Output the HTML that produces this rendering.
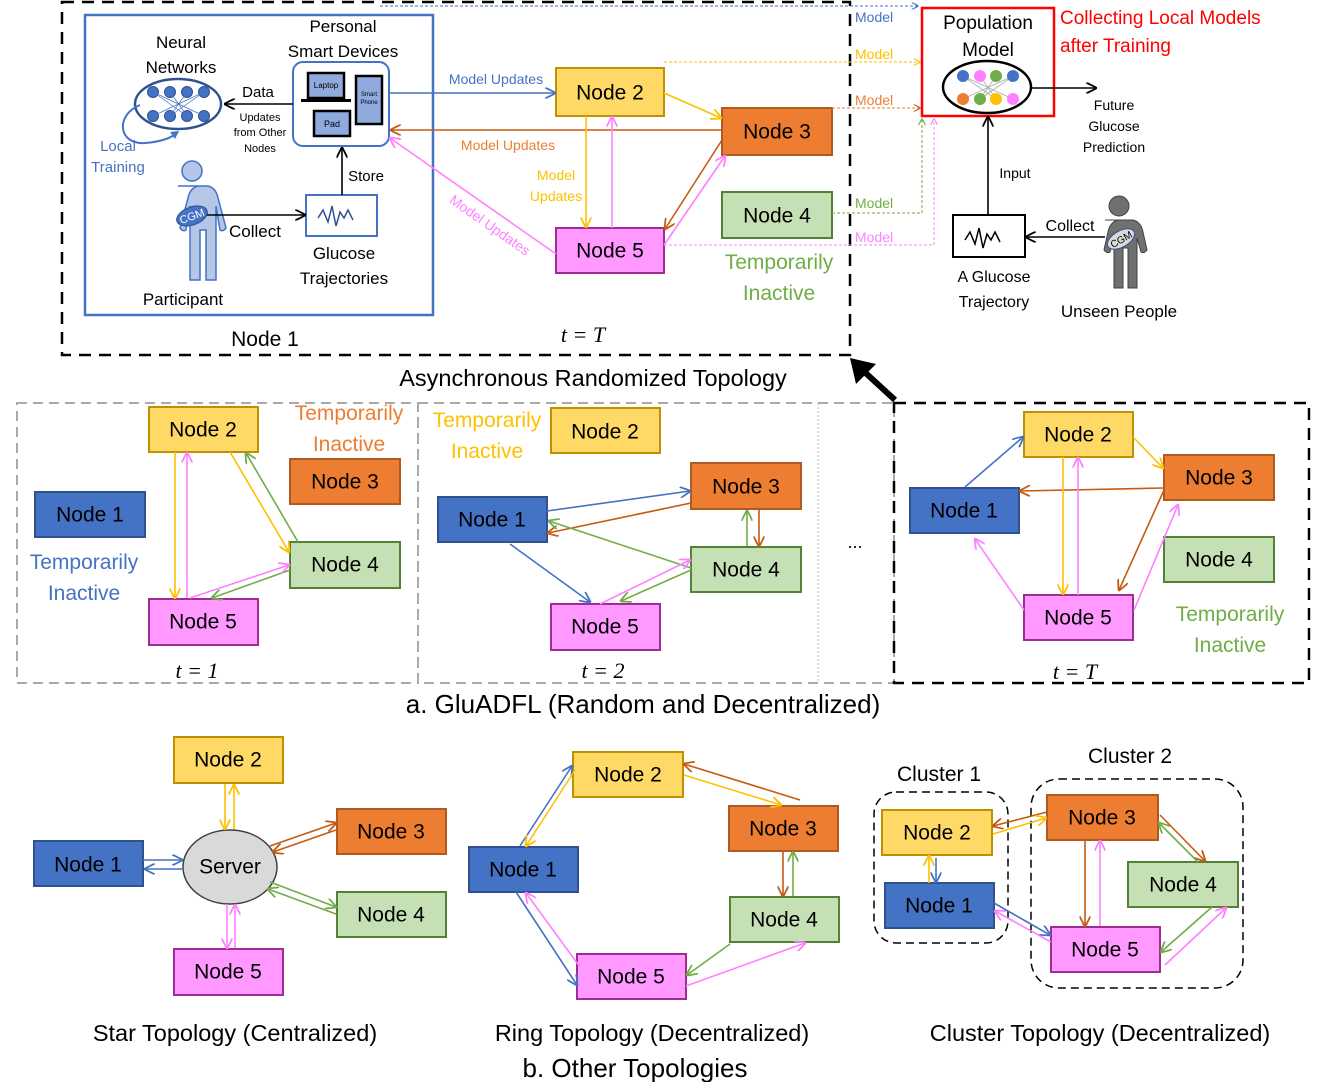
<!DOCTYPE html>
<html><head><meta charset="utf-8"><style>
html,body{margin:0;padding:0;background:#fff}
svg{display:block;font-family:"Liberation Sans",sans-serif}
.n{font-size:21px;text-anchor:middle;dominant-baseline:central;fill:#000}
.y{fill:#FFD966;stroke:#BF9000;stroke-width:2}
.o{fill:#ED7D31;stroke:#AE5A21;stroke-width:2}
.g{fill:#C5E0B4;stroke:#548235;stroke-width:2}
.p{fill:#FF99FF;stroke:#A02B93;stroke-width:2}
.b{fill:#4472C4;stroke:#2F528F;stroke-width:2}
.eb{stroke:#4472C4;stroke-width:1.6;fill:none;marker-end:url(#mb)}
.ey{stroke:#FFC000;stroke-width:1.6;fill:none;marker-end:url(#my)}
.eo{stroke:#C55A11;stroke-width:1.6;fill:none;marker-end:url(#mo)}
.eg{stroke:#70AD47;stroke-width:1.6;fill:none;marker-end:url(#mg)}
.ep{stroke:#FF80FF;stroke-width:1.6;fill:none;marker-end:url(#mp)}
.ek{stroke:#000;stroke-width:1.6;fill:none;marker-end:url(#mk)}
.t{font-size:17px;text-anchor:middle}
.s{font-size:13px;text-anchor:middle}
.m{font-family:"Liberation Serif",serif;font-style:italic;font-size:22px;text-anchor:middle}
</style></head><body>
<svg width="1329" height="1082" viewBox="0 0 1329 1082" xmlns="http://www.w3.org/2000/svg">
<defs>
<marker id="mb" viewBox="0 0 10 10" refX="9" refY="5" markerWidth="7" markerHeight="7" orient="auto"><path d="M0,0L10,5L0,10" fill="none" stroke="#4472C4" stroke-width="1.6"/></marker>
<marker id="my" viewBox="0 0 10 10" refX="9" refY="5" markerWidth="7" markerHeight="7" orient="auto"><path d="M0,0L10,5L0,10" fill="none" stroke="#FFC000" stroke-width="1.6"/></marker>
<marker id="mo" viewBox="0 0 10 10" refX="9" refY="5" markerWidth="7" markerHeight="7" orient="auto"><path d="M0,0L10,5L0,10" fill="none" stroke="#C55A11" stroke-width="1.6"/></marker>
<marker id="mg" viewBox="0 0 10 10" refX="9" refY="5" markerWidth="7" markerHeight="7" orient="auto"><path d="M0,0L10,5L0,10" fill="none" stroke="#70AD47" stroke-width="1.6"/></marker>
<marker id="mp" viewBox="0 0 10 10" refX="9" refY="5" markerWidth="7" markerHeight="7" orient="auto"><path d="M0,0L10,5L0,10" fill="none" stroke="#FF80FF" stroke-width="1.6"/></marker>
<marker id="mk" viewBox="0 0 10 10" refX="9" refY="5" markerWidth="7" markerHeight="7" orient="auto"><path d="M0,0L10,5L0,10" fill="none" stroke="#000" stroke-width="1.6"/></marker>
</defs>

<!-- ===== TOP ===== -->
<rect x="62" y="2" width="788" height="353" fill="none" stroke="#000" stroke-width="2.5" stroke-dasharray="12,8"/>
<rect x="85" y="15" width="348" height="300" fill="none" stroke="#4472C4" stroke-width="2.5"/>
<text class="t" x="181" y="48">Neural</text><text class="t" x="181" y="73">Networks</text>
<text class="t" x="343" y="32">Personal</text><text class="t" x="343" y="57">Smart Devices</text>
<ellipse cx="178" cy="104" rx="43" ry="25" fill="none" stroke="#2F528F" stroke-width="2.5"/>
<g fill="#4472C4" stroke="#2F528F">
<circle cx="153" cy="92" r="5.5"/><circle cx="170" cy="92" r="5.5"/><circle cx="187" cy="92" r="5.5"/><circle cx="204" cy="92" r="5.5"/>
<circle cx="153" cy="116" r="5.5"/><circle cx="170" cy="116" r="5.5"/><circle cx="187" cy="116" r="5.5"/><circle cx="204" cy="116" r="5.5"/></g>
<path d="M153,92L204,116M204,92L153,116M170,92L187,116M187,92L170,116M153,92L187,116M204,92L170,116" stroke="#4472C4" stroke-width="0.7"/>
<path d="M140,105 C115,115 118,145 145,143 C160,142 172,138 178,132" fill="none" stroke="#4472C4" stroke-width="2"/>
<path d="M170,132L179,131L175,139Z" fill="#4472C4"/>
<text x="118" y="151" class="s" style="font-size:15px" fill="#4472C4">Local</text>
<text x="118" y="172" class="s" style="font-size:15px" fill="#4472C4">Training</text>
<rect x="293" y="62" width="96" height="84" rx="10" fill="none" stroke="#4472C4" stroke-width="2"/>
<rect x="308" y="73" width="36" height="25" fill="#8FAADC" stroke="#000" stroke-width="2.5"/><rect x="301" y="99" width="50" height="3" fill="#000"/>
<text x="326" y="88" style="font-size:8px" text-anchor="middle">Laptop</text>
<rect x="356" y="76" width="26" height="48" fill="#8FAADC" stroke="#000" stroke-width="2.5"/>
<text x="369" y="96" style="font-size:6px" text-anchor="middle">Smart</text><text x="369" y="104" style="font-size:6px" text-anchor="middle">Phone</text>
<rect x="314" y="111" width="36" height="25" fill="#8FAADC" stroke="#000" stroke-width="2.5"/>
<text x="332" y="127" style="font-size:9px" text-anchor="middle">Pad</text>
<line x1="293" y1="104" x2="225" y2="104" class="ek"/>
<text x="258" y="97" class="s" style="font-size:15px">Data</text>
<text x="260" y="121" class="s" style="font-size:11px">Updates</text><text x="260" y="136" class="s" style="font-size:11px">from Other</text><text x="260" y="152" class="s" style="font-size:11px">Nodes</text>
<rect x="306" y="195" width="71" height="41" fill="none" stroke="#4472C4" stroke-width="2"/>
<path d="M318,218 l5,-8 5,12 4,-16 4,20 4,-14 4,6 4,-8 5,10" fill="none" stroke="#2F528F" stroke-width="1.5"/>
<line x1="342" y1="195" x2="342" y2="148" class="ek"/>
<text x="366" y="181" class="s" style="font-size:15px">Store</text>
<text class="t" x="344" y="259">Glucose</text><text class="t" x="344" y="284">Trajectories</text>
<g fill="#B4C7E7" stroke="#4472C4" stroke-width="1.5">
<circle cx="192" cy="171" r="10"/>
<path d="M178,186 h30 q8,2 10,12 l8,30 q-3,4 -6,2 l-4,-24 v20 h0 v54 h-10 v-50 h-6 v50 h-10 v-54 l0,-20 -4,24 q-3,2 -6,-2 l8,-30 q2,-10 10,-12z"/>
</g>
<ellipse cx="192" cy="216" rx="16" ry="9" transform="rotate(-20 192 216)" fill="#4472C4" stroke="#2F528F"/>
<text x="192" y="220" class="s" style="font-size:11px" fill="#fff" transform="rotate(-20 192 216)">CGM</text>
<line x1="207" y1="215" x2="305" y2="215" class="ek"/>
<text x="255" y="237" class="s" style="font-size:17px">Collect</text>
<text x="183" y="305" class="t">Participant</text>
<text x="265" y="346" class="t" style="font-size:21px">Node 1</text>
<text x="583" y="342" class="m">t  = T</text>

<rect x="556" y="68" width="108" height="48" class="y"/><text class="n" x="610" y="93">Node 2</text>
<rect x="722" y="108" width="110" height="47" class="o"/><text class="n" x="777" y="132">Node 3</text>
<rect x="722" y="192" width="110" height="46" class="g"/><text class="n" x="777" y="216">Node 4</text>
<rect x="556" y="228" width="108" height="45" class="p"/><text class="n" x="610" y="251">Node 5</text>

<line x1="390" y1="93" x2="555" y2="93" class="eb"/>
<text x="496" y="84" style="font-size:14px" text-anchor="middle" fill="#4472C4">Model Updates</text>
<line x1="722" y1="130" x2="391" y2="130" class="eo"/>
<text x="508" y="150" style="font-size:14px" text-anchor="middle" fill="#ED7D31">Model Updates</text>
<line x1="556" y1="254" x2="390" y2="138" class="ep"/>
<text x="490" y="230" style="font-size:14px" text-anchor="middle" fill="#FF80FF" transform="rotate(35 490 225)">Model Updates</text>
<line x1="586" y1="116" x2="586" y2="227" class="ey"/>
<line x1="612" y1="228" x2="612" y2="117" class="ep"/>
<text x="556" y="180" style="font-size:14px" text-anchor="middle" fill="#FFC000">Model</text>
<text x="556" y="201" style="font-size:14px" text-anchor="middle" fill="#FFC000">Updates</text>
<line x1="664" y1="93" x2="721" y2="118" class="ey"/>
<line x1="722" y1="140" x2="665" y2="229" class="eo"/>
<line x1="664" y1="245" x2="725" y2="156" class="ep"/>
<text x="779" y="269" style="font-size:21px" text-anchor="middle" fill="#70AD47">Temporarily</text>
<text x="779" y="300" style="font-size:21px" text-anchor="middle" fill="#70AD47">Inactive</text>

<path d="M380,6 H918" stroke="#4472C4" stroke-dasharray="3,2" fill="none" marker-end="url(#mb)"/>
<path d="M664,62 H920" stroke="#FFC000" stroke-dasharray="3,2" fill="none" marker-end="url(#my)"/>
<path d="M832,108 H920" stroke="#ED7D31" stroke-dasharray="3,2" fill="none" marker-end="url(#mo)"/>
<path d="M832,213 H922 V119" stroke="#70AD47" stroke-dasharray="3,2" fill="none" marker-end="url(#mg)"/>
<path d="M664,245 H934 V119" stroke="#FF80FF" stroke-dasharray="3,2" fill="none" marker-end="url(#mp)"/>
<g style="font-size:14px">
<text x="855" y="22" fill="#4472C4">Model</text>
<text x="855" y="59" fill="#FFC000">Model</text>
<text x="855" y="105" fill="#ED7D31">Model</text>
<text x="855" y="208" fill="#70AD47">Model</text>
<text x="855" y="242" fill="#FF80FF">Model</text></g>

<rect x="922" y="8" width="132" height="108" fill="none" stroke="#FF0000" stroke-width="2.5"/>
<text class="t" x="988" y="29" style="font-size:19px">Population</text><text class="t" x="988" y="56" style="font-size:19px">Model</text>
<ellipse cx="987" cy="87" rx="44" ry="26" fill="#fff" stroke="#000" stroke-width="2.5"/>
<path d="M963,76L1013,99M1013,76L963,99M980,76L996,99M996,76L980,99M963,76L996,99M1013,76L980,99" stroke="#aaa" stroke-width="0.8"/>
<circle cx="963" cy="76" r="6" fill="#4472C4"/><circle cx="980" cy="76" r="6" fill="#FF80FF"/><circle cx="996" cy="76" r="6" fill="#70AD47"/><circle cx="1013" cy="76" r="6" fill="#4472C4"/>
<circle cx="963" cy="99" r="6" fill="#ED7D31"/><circle cx="980" cy="99" r="6" fill="#70AD47"/><circle cx="996" cy="99" r="6" fill="#FFC000"/><circle cx="1013" cy="99" r="6" fill="#FF80FF"/>
<line x1="1031" y1="88" x2="1096" y2="88" class="ek"/>
<text x="1060" y="24" style="font-size:19px" fill="#FF0000">Collecting Local Models</text>
<text x="1060" y="52" style="font-size:19px" fill="#FF0000">after Training</text>
<text class="s" style="font-size:14px" x="1114" y="110">Future</text><text class="s" style="font-size:14px" x="1114" y="131">Glucose</text><text class="s" style="font-size:14px" x="1114" y="152">Prediction</text>
<line x1="988" y1="215" x2="988" y2="117" class="ek"/>
<text x="1015" y="178" class="s" style="font-size:14px">Input</text>
<rect x="953" y="215" width="72" height="42" fill="#fff" stroke="#000" stroke-width="2"/>
<path d="M965,240 l5,-8 5,12 4,-16 4,20 4,-14 4,6 4,-8 5,10" fill="none" stroke="#000" stroke-width="1.5"/>
<text class="t" x="994" y="282" style="font-size:16px">A Glucose</text><text class="t" x="994" y="307" style="font-size:16px">Trajectory</text>
<g fill="#707070" stroke="#404040" stroke-width="1">
<circle cx="1119" cy="206" r="10"/>
<path d="M1105,220 h28 q8,2 10,12 l4,18 q-3,4 -6,2 l-4,-14 v50 h-9 v-40 h-5 v40 h-9 v-50 l-4,14 q-3,2 -6,-2 l4,-18 q2,-10 10,-12z"/></g>
<ellipse cx="1121" cy="239" rx="15" ry="8" transform="rotate(-30 1121 239)" fill="#D9D9D9" stroke="#2F528F"/>
<text x="1121" y="243" class="s" style="font-size:10px" transform="rotate(-30 1121 239)">CGM</text>
<line x1="1105" y1="237" x2="1026" y2="237" class="ek"/>
<text x="1070" y="231" class="s" style="font-size:16px">Collect</text>
<text class="t" x="1119" y="317">Unseen People</text>

<text class="t" x="593" y="386" style="font-size:23.5px">Asynchronous Randomized Topology</text>
<line x1="895" y1="400" x2="858" y2="366" stroke="#000" stroke-width="6"/>
<path d="M850,358 L876,364 L856,384Z" fill="#000"/>

<!-- ===== MIDDLE ===== -->
<rect x="17" y="403" width="401" height="280" fill="none" stroke="#aaa" stroke-width="2" stroke-dasharray="10,6"/>
<rect x="418" y="403" width="476" height="280" fill="none" stroke="#aaa" stroke-width="2" stroke-dasharray="10,6"/>
<line x1="818" y1="403" x2="818" y2="683" stroke="#bbb" stroke-dasharray="2,2"/>
<rect x="894" y="403" width="415" height="280" fill="none" stroke="#000" stroke-width="2.5" stroke-dasharray="12,8"/>

<rect x="149" y="407" width="109" height="45" class="y"/><text class="n" x="203" y="430">Node 2</text>
<rect x="290" y="459" width="110" height="45" class="o"/><text class="n" x="345" y="482">Node 3</text>
<rect x="35" y="492" width="110" height="45" class="b"/><text class="n" x="90" y="515">Node 1</text>
<rect x="290" y="542" width="110" height="46" class="g"/><text class="n" x="345" y="565">Node 4</text>
<rect x="149" y="599" width="109" height="46" class="p"/><text class="n" x="203" y="622">Node 5</text>
<text x="349" y="420" style="font-size:21px" text-anchor="middle" fill="#ED7D31">Temporarily</text>
<text x="349" y="451" style="font-size:21px" text-anchor="middle" fill="#ED7D31">Inactive</text>
<text x="84" y="569" style="font-size:21px" text-anchor="middle" fill="#4472C4">Temporarily</text>
<text x="84" y="600" style="font-size:21px" text-anchor="middle" fill="#4472C4">Inactive</text>
<line x1="175" y1="452" x2="175" y2="598" class="ey"/>
<line x1="187" y1="598" x2="187" y2="453" class="ep"/>
<line x1="230" y1="452" x2="289" y2="552" class="ey"/>
<line x1="298" y1="542" x2="246" y2="453" class="eg"/>
<line x1="290" y1="570" x2="212" y2="598" class="eg"/>
<line x1="190" y1="598" x2="289" y2="565" class="ep"/>
<text class="m" x="197" y="678">t  =  1</text>

<text x="487" y="427" style="font-size:21px" text-anchor="middle" fill="#FFC000">Temporarily</text>
<text x="487" y="458" style="font-size:21px" text-anchor="middle" fill="#FFC000">Inactive</text>
<rect x="551" y="408" width="109" height="45" class="y"/><text class="n" x="605" y="432">Node 2</text>
<rect x="438" y="497" width="109" height="45" class="b"/><text class="n" x="492" y="520">Node 1</text>
<rect x="691" y="463" width="110" height="46" class="o"/><text class="n" x="746" y="487">Node 3</text>
<rect x="691" y="547" width="110" height="45" class="g"/><text class="n" x="746" y="570">Node 4</text>
<rect x="551" y="604" width="109" height="46" class="p"/><text class="n" x="605" y="627">Node 5</text>
<line x1="547" y1="511" x2="690" y2="491" class="eb"/>
<line x1="691" y1="503" x2="548" y2="533" class="eo"/>
<line x1="691" y1="568" x2="549" y2="521" class="eg"/>
<line x1="510" y1="544" x2="590" y2="602" class="eb"/>
<line x1="600" y1="604" x2="690" y2="560" class="ep"/>
<line x1="691" y1="570" x2="621" y2="601" class="eg"/>
<line x1="747" y1="546" x2="747" y2="511" class="eg"/>
<line x1="759" y1="510" x2="759" y2="546" class="eo"/>
<text class="m" x="603" y="678">t  = 2</text>
<text x="855" y="548" style="font-size:18px" text-anchor="middle">...</text>

<rect x="1024" y="412" width="109" height="45" class="y"/><text class="n" x="1078" y="435">Node 2</text>
<rect x="1164" y="455" width="110" height="45" class="o"/><text class="n" x="1219" y="478">Node 3</text>
<rect x="910" y="488" width="109" height="45" class="b"/><text class="n" x="964" y="511">Node 1</text>
<rect x="1164" y="537" width="110" height="45" class="g"/><text class="n" x="1219" y="560">Node 4</text>
<rect x="1024" y="595" width="109" height="45" class="p"/><text class="n" x="1078" y="618">Node 5</text>
<line x1="965" y1="487" x2="1023" y2="437" class="eb"/>
<line x1="1164" y1="488" x2="1020" y2="491" class="eo"/>
<line x1="1133" y1="437" x2="1163" y2="468" class="ey"/>
<line x1="1063" y1="457" x2="1063" y2="594" class="ey"/>
<line x1="1078" y1="595" x2="1078" y2="458" class="ep"/>
<line x1="1164" y1="490" x2="1119" y2="590" class="eo"/>
<line x1="1134" y1="610" x2="1178" y2="505" class="ep"/>
<line x1="1024" y1="610" x2="975" y2="539" class="ep"/>
<text x="1230" y="621" style="font-size:21px" text-anchor="middle" fill="#70AD47">Temporarily</text>
<text x="1230" y="652" style="font-size:21px" text-anchor="middle" fill="#70AD47">Inactive</text>
<text class="m" x="1075" y="679">t  = T</text>

<text class="t" x="643" y="713" style="font-size:26px">a. GluADFL (Random and Decentralized)</text>

<!-- ===== BOTTOM ===== -->
<rect x="174" y="737" width="109" height="46" class="y"/><text class="n" x="228" y="760">Node 2</text>
<rect x="337" y="809" width="109" height="45" class="o"/><text class="n" x="391" y="832">Node 3</text>
<rect x="34" y="841" width="109" height="45" class="b"/><text class="n" x="88" y="865">Node 1</text>
<rect x="337" y="892" width="109" height="45" class="g"/><text class="n" x="391" y="915">Node 4</text>
<rect x="174" y="949" width="109" height="46" class="p"/><text class="n" x="228" y="972">Node 5</text>
<ellipse cx="230" cy="867" rx="47" ry="37" fill="#D9D9D9" stroke="#404040" stroke-width="1.5"/>
<text class="n" x="230" y="867">Server</text>
<line x1="225" y1="784" x2="225" y2="829" class="ey"/>
<line x1="234" y1="829" x2="234" y2="785" class="ey"/>
<line x1="143" y1="860" x2="182" y2="860" class="eb"/>
<line x1="182" y1="869" x2="145" y2="869" class="eb"/>
<line x1="270" y1="846" x2="336" y2="823" class="eo"/>
<line x1="336" y1="830" x2="273" y2="852" class="eo"/>
<line x1="270" y1="882" x2="336" y2="907" class="eg"/>
<line x1="336" y1="914" x2="268" y2="889" class="eg"/>
<line x1="227" y1="904" x2="227" y2="948" class="ep"/>
<line x1="235" y1="948" x2="235" y2="905" class="ep"/>
<text class="t" x="235" y="1041" style="font-size:23.5px">Star Topology (Centralized)</text>

<rect x="573" y="752" width="110" height="45" class="y"/><text class="n" x="628" y="775">Node 2</text>
<rect x="729" y="806" width="109" height="45" class="o"/><text class="n" x="783" y="829">Node 3</text>
<rect x="469" y="847" width="109" height="45" class="b"/><text class="n" x="523" y="870">Node 1</text>
<rect x="730" y="897" width="109" height="45" class="g"/><text class="n" x="784" y="920">Node 4</text>
<rect x="577" y="954" width="109" height="45" class="p"/><text class="n" x="631" y="977">Node 5</text>
<line x1="520" y1="846" x2="572" y2="766" class="eb"/>
<line x1="575" y1="770" x2="526" y2="846" class="ey"/>
<line x1="800" y1="800" x2="684" y2="764" class="eo"/>
<line x1="684" y1="775" x2="781" y2="805" class="ey"/>
<line x1="783" y1="852" x2="783" y2="896" class="eo"/>
<line x1="793" y1="896" x2="793" y2="852" class="eg"/>
<line x1="730" y1="944" x2="687" y2="975" class="eg"/>
<line x1="686" y1="986" x2="805" y2="943" class="ep"/>
<line x1="516" y1="892" x2="577" y2="985" class="eb"/>
<line x1="580" y1="967" x2="526" y2="893" class="ep"/>
<text class="t" x="652" y="1041" style="font-size:23.5px">Ring Topology (Decentralized)</text>

<rect x="874" y="792" width="134" height="151" rx="22" fill="none" stroke="#000" stroke-width="1.5" stroke-dasharray="8,5"/>
<rect x="1031" y="779" width="212" height="209" rx="28" fill="none" stroke="#000" stroke-width="1.5" stroke-dasharray="8,5"/>
<text class="t" x="939" y="781" style="font-size:21px">Cluster 1</text>
<text class="t" x="1130" y="763" style="font-size:21px">Cluster 2</text>
<rect x="882" y="810" width="110" height="45" class="y"/><text class="n" x="937" y="833">Node 2</text>
<rect x="885" y="883" width="109" height="45" class="b"/><text class="n" x="939" y="906">Node 1</text>
<rect x="1047" y="795" width="111" height="45" class="o"/><text class="n" x="1102" y="818">Node 3</text>
<rect x="1128" y="862" width="110" height="45" class="g"/><text class="n" x="1183" y="885">Node 4</text>
<rect x="1051" y="927" width="109" height="45" class="p"/><text class="n" x="1105" y="950">Node 5</text>
<line x1="929" y1="883" x2="929" y2="856" class="ey"/>
<line x1="936" y1="858" x2="936" y2="882" class="eb"/>
<line x1="1047" y1="812" x2="993" y2="826" class="eo"/>
<line x1="993" y1="834" x2="1046" y2="818" class="ey"/>
<line x1="994" y1="903" x2="1050" y2="935" class="eb"/>
<line x1="1051" y1="942" x2="995" y2="911" class="ep"/>
<line x1="1085" y1="840" x2="1085" y2="926" class="eo"/>
<line x1="1100" y1="926" x2="1100" y2="841" class="ep"/>
<line x1="1160" y1="815" x2="1205" y2="861" class="eo"/>
<line x1="1198" y1="862" x2="1159" y2="823" class="eg"/>
<line x1="1212" y1="907" x2="1161" y2="952" class="eg"/>
<line x1="1165" y1="965" x2="1226" y2="908" class="ep"/>
<text class="t" x="1100" y="1041" style="font-size:23.5px">Cluster Topology (Decentralized)</text>

<text class="t" x="635" y="1077" style="font-size:26px">b. Other Topologies</text>
</svg>
</body></html>
